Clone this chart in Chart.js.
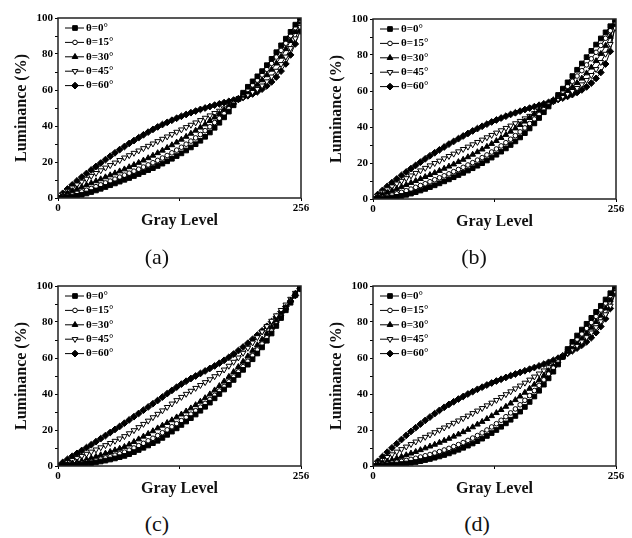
<!DOCTYPE html>
<html>
<head>
<meta charset="utf-8">
<script src="https://cdn.jsdelivr.net/npm/chart.js@4.4.1/dist/chart.umd.min.js"></script>
<style>
  body { margin: 0; background: #fff; }
  #page { position: relative; width: 632px; height: 538px; overflow: hidden; }
  canvas { position: absolute; }
  .cap { position: absolute; width: 60px; text-align: center; font: 22px "Liberation Serif", "Times New Roman", serif; color: #111; line-height: 24px; }
</style>
</head>
<body>
<div id="page">
  <canvas id="chartA" width="316" height="230" style="left:0px;top:0px"></canvas>
  <canvas id="chartB" width="316" height="230" style="left:315px;top:1px"></canvas>
  <canvas id="chartC" width="316" height="230" style="left:0px;top:268px"></canvas>
  <canvas id="chartD" width="316" height="230" style="left:315px;top:268px"></canvas>
  <div class="cap" style="left:127px;top:245px">(a)</div>
  <div class="cap" style="left:444px;top:245px">(b)</div>
  <div class="cap" style="left:127px;top:512px">(c)</div>
  <div class="cap" style="left:447px;top:512px">(d)</div>
</div>
<script>
// gray levels (x axis), same for every panel
const grayLevels = [0, 5, 10, 15, 20, 25, 30, 35, 40, 45, 50, 55, 60,
    65, 70, 75, 80, 85, 90, 95, 100, 105, 110, 115, 120, 125,
    130, 135, 140, 145, 150, 155, 160, 165, 170, 175, 180, 185, 190,
    195, 200, 205, 210, 215, 220, 225, 230, 235, 240, 245, 250, 255];

const seriesLabels = ["θ=0°", "θ=15°", "θ=30°", "θ=45°", "θ=60°"];
const xTicks = [0, 256];
const yTicks = [0, 20, 40, 60, 80, 100];

// panel (a)
const lumA0 = [0, 0.2, 0.5, 0.8, 1.2, 1.8, 2.5, 3.3, 4.2, 5.1, 6.1, 7.1, 8.1,
    9.1, 10.1, 11.1, 12.2, 13.3, 14.4, 15.5, 16.6, 17.8, 19.1, 20.4, 21.8, 23.3,
    24.8, 26.4, 28.1, 29.9, 31.8, 34, 36.4, 39, 41.8, 44.8, 48, 51.5, 55,
    58.5, 61.8, 64.8, 67.6, 70.5, 73.8, 77.3, 81, 84.8, 88.5, 92.3, 96.3, 100];
const lumA15 = [0, 0.5, 1.1, 1.8, 2.6, 3.4, 4.3, 5.3, 6.3, 7.3, 8.4, 9.4, 10.5,
    11.6, 12.7, 13.8, 14.9, 16, 17.2, 18.4, 19.6, 20.9, 22.2, 23.6, 25.1, 26.6,
    28.2, 29.9, 31.6, 33.4, 35.3, 37.4, 39.6, 41.9, 44.3, 46.9, 49.6, 52.5, 55.3,
    57.8, 60.3, 62.8, 65.5, 68.4, 71.5, 74.8, 78.3, 82, 86, 90.2, 94.6, 99];
const lumA30 = [0, 1.4, 2.7, 3.9, 5, 6.1, 7.2, 8.3, 9.4, 10.5, 11.6, 12.7, 13.8,
    14.9, 16, 17.2, 18.4, 19.6, 20.9, 22.2, 23.6, 25, 26.4, 27.9, 29.4, 30.9,
    32.5, 34.1, 35.8, 37.5, 39.2, 41, 42.9, 44.8, 46.8, 48.8, 50.9, 53, 55,
    56.9, 58.8, 60.8, 63, 65.5, 68.3, 71.4, 74.8, 78.6, 82.8, 87.3, 92.3, 97.8];
const lumA45 = [0, 2, 3.9, 5.7, 7.4, 9, 10.6, 12.2, 13.8, 15.3, 16.8, 18.2, 19.6,
    21, 22.4, 23.7, 25, 26.3, 27.6, 28.9, 30.2, 31.5, 32.8, 34.1, 35.4, 36.7,
    38, 39.3, 40.6, 41.9, 43.2, 44.5, 45.8, 47.1, 48.4, 49.7, 51.2, 52.9, 54.6,
    56, 57.4, 58.9, 60.5, 62.4, 64.7, 67.4, 70.6, 74.3, 78.5, 83.2, 88.6, 95];
const lumA60 = [0, 2.6, 5, 7.3, 9.5, 11.6, 13.6, 15.6, 17.5, 19.4, 21.3, 23.2, 25.1,
    26.9, 28.6, 30.3, 31.9, 33.5, 35.1, 36.6, 38.1, 39.5, 40.8, 42, 43.2, 44.3,
    45.4, 46.4, 47.4, 48.3, 49.2, 50, 50.8, 51.6, 52.3, 53, 53.7, 54.4, 55.1,
    55.9, 56.8, 57.8, 59, 60.5, 62.3, 64.5, 67.2, 70.5, 74.5, 79.5, 85.6, 92.8];

// panel (b)
const lumB0 = [0, 0.1, 0.3, 0.5, 0.8, 1.2, 1.7, 2.3, 3, 3.8, 4.7, 5.6, 6.6,
    7.6, 8.7, 9.8, 10.9, 12.1, 13.3, 14.5, 15.8, 17.1, 18.5, 19.9, 21.4, 23,
    24.6, 26.3, 28.1, 30, 32, 34.2, 36.6, 39.2, 42, 45, 48.2, 51.4, 54.5,
    57.8, 61.3, 64.8, 68.3, 71.8, 75.3, 78.8, 82.3, 85.8, 89.2, 92.6, 96, 99.5];
const lumB15 = [0, 0.4, 0.9, 1.5, 2.2, 2.9, 3.7, 4.6, 5.5, 6.5, 7.5, 8.5, 9.6,
    10.7, 11.8, 12.9, 14, 15.2, 16.4, 17.6, 18.9, 20.2, 21.6, 23, 24.5, 26.1,
    27.8, 29.5, 31.3, 33.2, 35.2, 37.3, 39.5, 41.9, 44.4, 47, 49.7, 52.3, 54.8,
    57.3, 59.9, 62.6, 65.4, 68.3, 71.3, 74.5, 77.9, 81.5, 85.3, 89.3, 93.5, 98.5];
const lumB30 = [0, 1.2, 2.4, 3.5, 4.6, 5.7, 6.8, 7.9, 9, 10.1, 11.2, 12.3, 13.4,
    14.5, 15.7, 16.9, 18.1, 19.3, 20.6, 21.9, 23.3, 24.7, 26.1, 27.6, 29.1, 30.7,
    32.3, 34, 35.7, 37.5, 39.3, 41.2, 43.1, 45.1, 47.1, 49.2, 51.2, 53.2, 55,
    56.7, 58.4, 60.2, 62.2, 64.5, 67, 69.9, 73.1, 76.7, 80.7, 85.2, 90.2, 97.5];
const lumB45 = [0, 1.8, 3.6, 5.3, 6.9, 8.5, 10, 11.5, 13, 14.4, 15.8, 17.2, 18.6,
    19.9, 21.2, 22.5, 23.8, 25.1, 26.4, 27.7, 29, 30.3, 31.6, 32.9, 34.2, 35.5,
    36.8, 38.1, 39.4, 40.7, 42, 43.3, 44.7, 46.1, 47.6, 49.1, 50.7, 52.4, 54.1,
    55.6, 57, 58.4, 59.9, 61.6, 63.6, 66, 68.8, 72.1, 76, 80.6, 86, 95];
const lumB60 = [0, 2.5, 4.8, 7, 9.1, 11.1, 13.1, 15, 16.9, 18.7, 20.5, 22.3, 24,
    25.7, 27.3, 28.9, 30.5, 32, 33.5, 35, 36.4, 37.8, 39.1, 40.4, 41.6, 42.8,
    43.9, 45, 46, 47, 47.9, 48.8, 49.7, 50.5, 51.3, 52.1, 52.9, 53.7, 54.5,
    55.3, 56.1, 57, 58, 59.2, 60.6, 62.3, 64.4, 67, 70.3, 75, 82, 96];

// panel (c)
const lumC0 = [0, 0.1, 0.2, 0.4, 0.6, 0.9, 1.2, 1.6, 2, 2.5, 3, 3.6, 4.2,
    4.9, 5.6, 6.6, 7.7, 8.9, 10.1, 11.4, 12.7, 14, 15.6, 17.3, 19.1, 20.9,
    22.8, 24.7, 26.6, 28.6, 30.7, 32.9, 35.2, 37.6, 40, 42.5, 45.1, 47.8, 50.6,
    53.4, 56.3, 59.3, 62.5, 65.9, 69.6, 73.6, 77.8, 82.2, 86.5, 90.7, 95, 99];
const lumC15 = [0, 0.2, 0.4, 0.7, 1.1, 1.5, 2, 2.5, 3.1, 3.8, 4.5, 5.2, 6,
    6.8, 7.7, 8.8, 10, 11.3, 12.6, 14, 15.4, 16.9, 18.5, 20.1, 21.8, 23.5,
    25.2, 27, 28.8, 30.7, 32.7, 34.8, 37, 39.3, 41.7, 44.2, 46.8, 49.5, 52.3,
    55.2, 58.2, 61.3, 64.5, 67.8, 71.3, 75, 78.9, 82.9, 87, 91.2, 95.4, 99.5];
const lumC30 = [0, 0.4, 0.9, 1.5, 2.1, 2.8, 3.6, 4.4, 5.2, 6.1, 7, 7.9, 8.8,
    9.7, 10.7, 12, 13.4, 14.9, 16.4, 17.9, 19.4, 21, 22.5, 24, 25.5, 27.1,
    28.7, 30.4, 32.1, 33.9, 35.8, 37.8, 39.9, 42.1, 44.5, 47, 49.6, 52.3, 55.1,
    58, 61, 64.1, 67.2, 70.3, 73.6, 77, 80.6, 84.3, 88, 91.9, 95.8, 99.6];
const lumC45 = [0, 1, 2.1, 3.2, 4.3, 5.5, 6.7, 7.9, 9.1, 10.3, 11.5, 12.7, 13.9,
    15.2, 16.5, 18.1, 19.8, 21.5, 23.3, 25.1, 27, 28.9, 30.8, 32.7, 34.6, 36.5,
    38.3, 40, 41.7, 43.3, 44.9, 46.5, 48.1, 49.8, 51.6, 53.5, 55.6, 57.8, 60.2,
    62.8, 65.6, 68.5, 71.5, 74.6, 77.6, 80.6, 83.6, 86.6, 89.6, 92.8, 96.1, 99.6];
const lumC60 = [0, 2, 3.7, 5.4, 7, 8.6, 10.2, 11.8, 13.5, 15.2, 16.9, 18.6, 20.3,
    22, 23.8, 25.6, 27.4, 29.2, 31, 32.8, 34.6, 36.4, 38.3, 40.2, 42, 43.8,
    45.5, 47.1, 48.6, 50, 51.4, 52.8, 54.2, 55.6, 57.1, 58.7, 60.4, 62.2, 64.1,
    66.1, 68.2, 70.4, 72.7, 75.1, 77.6, 80.2, 82.9, 85.7, 88.6, 91.6, 94.7, 98.5];

// panel (d)
const lumD0 = [0, 0.1, 0.2, 0.4, 0.6, 0.8, 1.1, 1.4, 1.8, 2.2, 2.7, 3.3, 3.9,
    4.6, 5.3, 6.1, 7, 8, 9, 10.1, 11.3, 12.5, 13.8, 15.2, 16.7, 18.3,
    20, 21.8, 23.7, 25.7, 27.8, 30.2, 32.8, 35.6, 38.6, 41.8, 45.2, 48.7, 52.4,
    56.4, 60.6, 65, 69, 72.5, 75.8, 79, 82.3, 85.6, 89, 92.5, 96, 99.6];
const lumD15 = [0, 0.3, 0.7, 1.1, 1.6, 2.1, 2.6, 3.1, 3.7, 4.3, 5, 5.7, 6.4,
    7.2, 8, 8.9, 9.8, 10.8, 11.9, 13, 14.2, 15.5, 16.9, 18.4, 20, 21.7,
    23.5, 25.4, 27.4, 29.5, 31.7, 34, 36.5, 39.1, 41.9, 44.8, 47.9, 51.1, 54.4,
    57.8, 61.3, 64.6, 67.6, 70.5, 73.4, 76.5, 79.7, 83.1, 86.7, 90.5, 94.6, 99];
const lumD30 = [0, 0.9, 1.8, 2.6, 3.4, 4.3, 5.2, 6.1, 7, 7.9, 8.9, 9.9, 10.9,
    11.9, 13, 14.1, 15.2, 16.4, 17.6, 18.9, 20.2, 21.6, 23.1, 24.6, 26.2, 27.8,
    29.5, 31.2, 33, 34.8, 36.7, 38.7, 40.8, 43, 45.3, 47.7, 50.2, 52.8, 55.5,
    58.2, 60.9, 63.5, 66, 68.5, 71.1, 73.9, 76.9, 80.1, 83.6, 87.6, 92.2, 98.5];
const lumD45 = [0, 1.7, 3.3, 4.9, 6.4, 7.9, 9.3, 10.7, 12.1, 13.5, 14.8, 16.1, 17.4,
    18.7, 20, 21.3, 22.6, 23.9, 25.2, 26.5, 27.9, 29.3, 30.7, 32.1, 33.6, 35.1,
    36.6, 38.2, 39.8, 41.4, 43, 44.6, 46.2, 47.9, 49.6, 51.3, 53, 54.8, 56.7,
    58.7, 60.8, 62.8, 64.8, 66.9, 69.1, 71.5, 74.1, 77, 80.3, 84.2, 89, 97];
const lumD60 = [0, 2.6, 5.2, 7.7, 10.1, 12.4, 14.7, 17, 19.2, 21.3, 23.3, 25.3, 27.2,
    29.1, 30.9, 32.6, 34.2, 35.7, 37.2, 38.6, 40, 41.3, 42.6, 43.8, 45, 46.1,
    47.2, 48.2, 49.2, 50.2, 51.1, 52, 52.9, 53.8, 54.7, 55.6, 56.6, 57.6, 58.7,
    59.9, 61.2, 62.6, 64, 65.5, 67.1, 69, 71.3, 74.1, 77.5, 81.8, 87.5, 96];

const FONT = "'Liberation Serif', 'Times New Roman', serif";

// marker look of each angle: 0 filled square, 15 open circle, 30 filled triangle,
// 45 open down triangle, 60 filled diamond
const markers = [
    { pointStyle: 'rect', radius: 3.3, rotation: 0, fill: '#000' },
    { pointStyle: 'circle', radius: 2.3, rotation: 0, fill: '#fff' },
    { pointStyle: 'triangle', radius: 3.3, rotation: 0, fill: '#000' },
    { pointStyle: 'triangle', radius: 3.3, rotation: 180, fill: '#fff' },
    { pointStyle: 'rectRot', radius: 3.4, rotation: 0, fill: '#000' }
];

// legend drawn inside the plot, top left
const innerLegend = {
    id: 'innerLegend',
    afterDraw(chart) {
        const ctx = chart.ctx;
        const area = chart.chartArea;
        ctx.save();
        seriesLabels.forEach(function (label, i) {
            const y = area.top + 10 + i * 14.4;
            const x0 = area.left + 7;
            ctx.strokeStyle = '#000';
            ctx.lineWidth = 1;
            ctx.beginPath();
            ctx.moveTo(x0, y);
            ctx.lineTo(x0 + 19, y);
            ctx.stroke();
            const m = markers[i];
            ctx.fillStyle = m.fill;
            Chart.helpers.drawPoint(ctx, {
                pointStyle: m.pointStyle, radius: m.radius,
                rotation: m.rotation, borderWidth: 1
            }, x0 + 10, y);
            ctx.fillStyle = '#000';
            ctx.font = 'bold 11px ' + FONT;
            ctx.textBaseline = 'middle';
            ctx.textAlign = 'left';
            ctx.fillText(label, x0 + 21, y);
        });
        ctx.restore();
    }
};

// box around the plot area
const frame = {
    id: 'frame',
    afterDraw(chart) {
        const ctx = chart.ctx;
        const a = chart.chartArea;
        ctx.save();
        ctx.strokeStyle = '#222';
        ctx.lineWidth = 1.5;
        ctx.strokeRect(a.left, a.top, a.right - a.left, a.bottom - a.top);
        ctx.restore();
    }
};

function makeChart(id, series) {
    const ctx = document.getElementById(id).getContext('2d');
    const datasets = series.map(function (values, i) {
        const m = markers[i];
        return {
            label: seriesLabels[i],
            data: grayLevels.map(function (g, k) { return { x: g, y: values[k] }; }),
            borderColor: '#000',
            borderWidth: 1,
            pointStyle: m.pointStyle,
            pointRadius: m.radius,
            pointRotation: m.rotation,
            pointBackgroundColor: m.fill,
            pointBorderColor: '#000',
            pointBorderWidth: 1,
            tension: 0,
            fill: false
        };
    });

    return new Chart(ctx, {
        type: 'line',
        data: { datasets: datasets },
        options: {
            responsive: false,
            animation: false,
            devicePixelRatio: 1,
            layout: { padding: { left: 0, right: 15, top: 18, bottom: 0 } },
            plugins: { legend: { display: false }, tooltip: { enabled: false } },
            scales: {
                x: {
                    type: 'linear',
                    min: 0,
                    max: 256,
                    afterFit: function (scale) { scale.height = 32; },
                    afterBuildTicks: function (scale) {
                        scale.ticks = [{ value: 0 }, { value: 128 }, { value: 256 }];
                    },
                    ticks: {
                        color: '#000',
                        padding: 1,
                        maxRotation: 0,
                        font: { family: FONT, size: 11, weight: 'bold' },
                        callback: function (v) { return xTicks.includes(v) ? String(v) : ''; }
                    },
                    grid: { drawOnChartArea: false, tickLength: 3, color: '#000' },
                    border: { display: false },
                    title: {
                        display: true,
                        text: 'Gray Level',
                        color: '#111',
                        padding: { top: 0, bottom: 0 },
                        font: { family: FONT, size: 16, weight: 'bold' }
                    }
                },
                y: {
                    min: 0,
                    max: 100,
                    afterFit: function (scale) { scale.width = 58; },
                    ticks: {
                        stepSize: 10,
                        color: '#000',
                        padding: 2,
                        font: { family: FONT, size: 11, weight: 'bold' },
                        callback: function (v) { return yTicks.includes(v) ? String(v) : ''; }
                    },
                    grid: { drawOnChartArea: false, tickLength: 3, color: '#000' },
                    border: { display: false },
                    title: {
                        display: true,
                        text: 'Luminance (%)',
                        color: '#111',
                        padding: { top: 12, bottom: 0 },
                        font: { family: FONT, size: 16, weight: 'bold' }
                    }
                }
            }
        },
        plugins: [frame, innerLegend]
    });
}

document.addEventListener("DOMContentLoaded", function () {
    makeChart('chartA', [lumA0, lumA15, lumA30, lumA45, lumA60]);
    makeChart('chartB', [lumB0, lumB15, lumB30, lumB45, lumB60]);
    makeChart('chartC', [lumC0, lumC15, lumC30, lumC45, lumC60]);
    makeChart('chartD', [lumD0, lumD15, lumD30, lumD45, lumD60]);
});
</script>
</body>
</html>
